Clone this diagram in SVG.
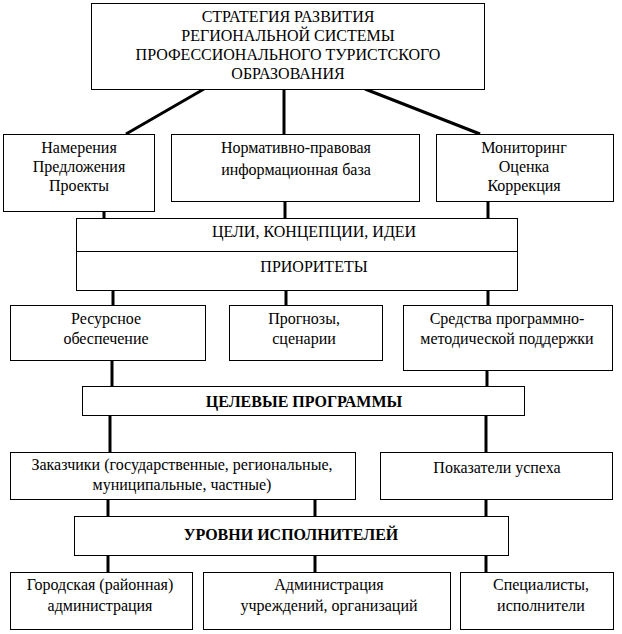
<svg xmlns="http://www.w3.org/2000/svg" width="622" height="634" viewBox="0 0 622 634" font-family="Liberation Serif" font-size="16">
<style>
  rect { fill: #fff; stroke: #000; stroke-width: 1; }
  .div { stroke: #000; stroke-width: 1; }
  text { font-family: 'Liberation Serif', 'Times New Roman', serif; font-size: 16px; fill: #000; text-anchor: middle; }
  .b { font-weight: bold; }
  #connectors line { stroke: #000; stroke-width: 3; }
</style>
<rect x="0" y="0" width="622" height="634" style="stroke:none"/>
<g id="connectors">
  <line x1="204" y1="89" x2="126" y2="134"/>
  <line x1="284" y1="89" x2="284" y2="134"/>
  <line x1="365" y1="89" x2="480" y2="134"/>
  <line x1="104" y1="211" x2="104" y2="218"/>
  <line x1="285" y1="202" x2="285" y2="218"/>
  <line x1="488" y1="202" x2="488" y2="218"/>
  <line x1="113" y1="291" x2="113" y2="305"/>
  <line x1="286" y1="291" x2="286" y2="305"/>
  <line x1="488" y1="291" x2="488" y2="305"/>
  <line x1="112" y1="361" x2="112" y2="386"/>
  <line x1="487" y1="371" x2="487" y2="386"/>
  <line x1="110" y1="416" x2="110" y2="452"/>
  <line x1="486" y1="416" x2="486" y2="452"/>
  <line x1="108" y1="500" x2="108" y2="516"/>
  <line x1="315" y1="500" x2="315" y2="516"/>
  <line x1="486" y1="500" x2="486" y2="516"/>
  <line x1="108" y1="556" x2="108" y2="572"/>
  <line x1="315" y1="556" x2="315" y2="572"/>
  <line x1="486" y1="556" x2="486" y2="572"/>
</g>
<g id="strategy">
  <rect x="91.5" y="3.5" width="393" height="86"/>
  <text x="288" y="22">СТРАТЕГИЯ РАЗВИТИЯ</text>
  <text x="288" y="41">РЕГИОНАЛЬНОЙ СИСТЕМЫ</text>
  <text x="288" y="60">ПРОФЕССИОНАЛЬНОГО ТУРИСТСКОГО</text>
  <text x="288" y="79">ОБРАЗОВАНИЯ</text>
</g>
<g id="intentions">
  <rect x="3.5" y="134.5" width="151" height="77"/>
  <text x="79" y="153">Намерения</text>
  <text x="79" y="172">Предложения</text>
  <text x="79" y="191">Проекты</text>
</g>
<g id="legal">
  <rect x="171.5" y="134.5" width="248" height="67"/>
  <text x="296" y="153">Нормативно-правовая</text>
  <text x="296" y="175">информационная база</text>
</g>
<g id="monitoring">
  <rect x="436.5" y="134.5" width="177" height="67"/>
  <text x="524" y="153">Мониторинг</text>
  <text x="524" y="172">Оценка</text>
  <text x="524" y="191">Коррекция</text>
</g>
<g id="goals">
  <rect x="76.5" y="218.5" width="441" height="72"/>
  <line class="div" x1="76.5" y1="251.5" x2="517.5" y2="251.5"/>
  <text x="314" y="237">ЦЕЛИ, КОНЦЕПЦИИ, ИДЕИ</text>
  <text x="314" y="272">ПРИОРИТЕТЫ</text>
</g>
<g id="resources">
  <rect x="10.5" y="305.5" width="195" height="55"/>
  <text x="106" y="324">Ресурсное</text>
  <text x="106" y="344">обеспечение</text>
</g>
<g id="forecasts">
  <rect x="229.5" y="305.5" width="153" height="55"/>
  <text x="304" y="324">Прогнозы,</text>
  <text x="304" y="344">сценарии</text>
</g>
<g id="methods">
  <rect x="403.5" y="305.5" width="209" height="65"/>
  <text x="507" y="324">Средства программно-</text>
  <text x="507" y="344">методической поддержки</text>
</g>
<g id="programs">
  <rect x="82.5" y="386.5" width="442" height="29"/>
  <text class="b" x="304" y="407">ЦЕЛЕВЫЕ ПРОГРАММЫ</text>
</g>
<g id="customers">
  <rect x="10.5" y="452.5" width="345" height="47"/>
  <text x="182" y="470">Заказчики (государственные, региональные,</text>
  <text x="182" y="490">муниципальные, частные)</text>
</g>
<g id="indicators">
  <rect x="380.5" y="452.5" width="232" height="47"/>
  <text x="497" y="473">Показатели успеха</text>
</g>
<g id="levels">
  <rect x="74.5" y="516.5" width="434" height="39"/>
  <text class="b" x="291" y="540">УРОВНИ ИСПОЛНИТЕЛЕЙ</text>
</g>
<g id="city">
  <rect x="10.5" y="572.5" width="182" height="57"/>
  <text x="100" y="590">Городская (районная)</text>
  <text x="100" y="611">администрация</text>
</g>
<g id="institutions">
  <rect x="203.5" y="572.5" width="247" height="57"/>
  <text x="329" y="590">Администрация</text>
  <text x="329" y="611">учреждений, организаций</text>
</g>
<g id="specialists">
  <rect x="460.5" y="572.5" width="153" height="57"/>
  <text x="541" y="590">Специалисты,</text>
  <text x="541" y="611">исполнители</text>
</g>
</svg>
